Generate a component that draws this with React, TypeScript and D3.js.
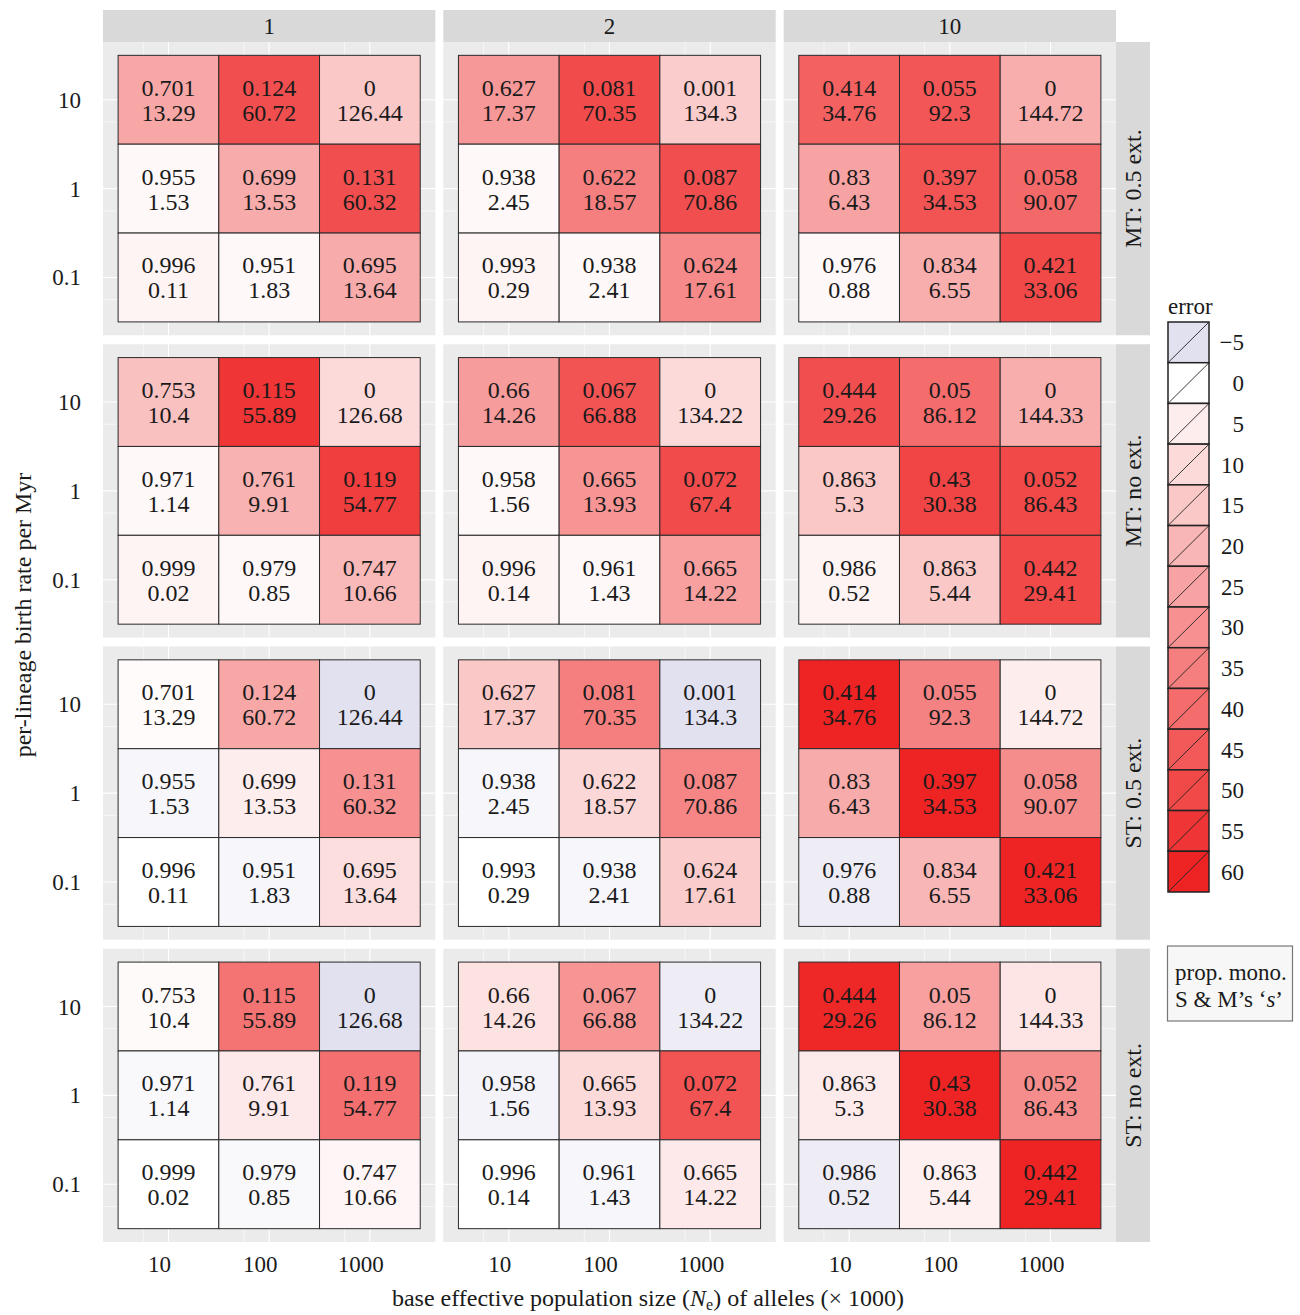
import * as d3 from "d3";

// facets
const facetCols = ["1", "2", "10"];
const facetRows = ["MT: 0.5 ext.", "MT: no ext.", "ST: 0.5 ext.", "ST: no ext."];
const popSizes = [10, 100, 1000];
const birthRates = [10, 1, 0.1]; // top to bottom
const birthLabels = ["10", "1", "0.1"];
const legendBreaks = [-5, 0, 5, 10, 15, 20, 25, 30, 35, 40, 45, 50, 55, 60];

// cell order: birth 10 (pop 10,100,1000), birth 1 (...), birth 0.1 (...)
const monoHalfExt = [
  [0.701, 0.124, 0, 0.955, 0.699, 0.131, 0.996, 0.951, 0.695],
  [0.627, 0.081, 0.001, 0.938, 0.622, 0.087, 0.993, 0.938, 0.624],
  [0.414, 0.055, 0, 0.83, 0.397, 0.058, 0.976, 0.834, 0.421],
];
const sHalfExt = [
  [13.29, 60.72, 126.44, 1.53, 13.53, 60.32, 0.11, 1.83, 13.64],
  [17.37, 70.35, 134.3, 2.45, 18.57, 70.86, 0.29, 2.41, 17.61],
  [34.76, 92.3, 144.72, 6.43, 34.53, 90.07, 0.88, 6.55, 33.06],
];
const monoNoExt = [
  [0.753, 0.115, 0, 0.971, 0.761, 0.119, 0.999, 0.979, 0.747],
  [0.66, 0.067, 0, 0.958, 0.665, 0.072, 0.996, 0.961, 0.665],
  [0.444, 0.05, 0, 0.863, 0.43, 0.052, 0.986, 0.863, 0.442],
];
const sNoExt = [
  [10.4, 55.89, 126.68, 1.14, 9.91, 54.77, 0.02, 0.85, 10.66],
  [14.26, 66.88, 134.22, 1.56, 13.93, 67.4, 0.14, 1.43, 14.22],
  [29.26, 86.12, 144.33, 5.3, 30.38, 86.43, 0.52, 5.44, 29.41],
];

// error (fill)
const errMTHalf = [
  [24, 48, 15, 2, 23, 48, 3, 2, 23],
  [28, 49, 14, 2, 35, 48, 3, 2, 32],
  [43, 46, 22, 25, 47, 41, 2, 22, 50],
];
const errMTNo = [
  [17, 55, 10, 2, 21, 53, 3, 2, 19],
  [27, 47, 10, 2, 29, 49, 3, 2, 26],
  [48, 40, 22, 15, 51, 50, 3, 15, 50],
];
const errSTHalf = [
  [1, 24, -5, -1.5, 5, 30, 0, -1.5, 9],
  [15, 35, -5, -1.5, 11, 33, 0, -1.5, 14],
  [60, 34, 5, 23, 60, 31, -3, 20, 60],
];
const errSTNo = [
  [1.5, 38, -5, -1, 6, 39, 0, -1, 2.5],
  [8, 29, -3, -2, 10, 47, 0, -1.5, 6],
  [59, 26, 7, 5.5, 60, 31, -3, 4, 60],
];

const rowMono = [monoHalfExt, monoNoExt, monoHalfExt, monoNoExt];
const rowS = [sHalfExt, sNoExt, sHalfExt, sNoExt];
const rowErr = [errMTHalf, errMTNo, errSTHalf, errSTNo];

const W = 1300;
const H = 1315;
const FONT = "'Liberation Serif', 'Times New Roman', serif";
const INK = "#1a1a1a";

const fill = d3
  .scaleLinear<string>()
  .domain([-5, 0, 60])
  .range(["#e2e1f0", "#ffffff", "#ee2323"])
  .interpolate(d3.interpolateRgb)
  .clamp(true);

const colBand = d3.scaleBand().domain(facetCols).range([103, 1116]).paddingInner(0.0235);
const rowBand = d3.scaleBand().domain(facetRows).range([42, 1242]).paddingInner(0.0298);
const legendBand = d3.scaleBand<number>().domain(legendBreaks).range([322, 892]);

function Panel({ ci, ri }: { ci: number; ri: number }) {
  const x0 = colBand(facetCols[ci])!;
  const y0 = rowBand(facetRows[ri])!;
  const bw = colBand.bandwidth();
  const bh = rowBand.bandwidth();
  const x = d3.scaleLinear().domain([0.35, 3.65]).range([x0, x0 + bw]);
  const y = d3.scaleLinear().domain([-1.65, 1.65]).range([y0 + bh, y0]);
  const mono = rowMono[ri][ci];
  const s = rowS[ri][ci];
  const err = rowErr[ri][ci];

  const xs = popSizes.map((p) => Math.log10(p));
  const ys = birthRates.map((b) => Math.log10(b));

  return (
    <g>
      <rect x={x0} y={y0} width={bw} height={bh} fill="#ebebeb" />
      {xs.map((v) => (
        <g key={"gx" + v}>
          <line x1={x(v)} x2={x(v)} y1={y0} y2={y0 + bh} stroke="#fff" strokeWidth={1.1} />
          <line x1={x(v - 0.25)} x2={x(v - 0.25)} y1={y0} y2={y0 + bh} stroke="#fff" strokeWidth={0.6} />
        </g>
      ))}
      {ys.map((v) => (
        <g key={"gy" + v}>
          <line x1={x0} x2={x0 + bw} y1={y(v)} y2={y(v)} stroke="#fff" strokeWidth={1.1} />
          <line x1={x0} x2={x0 + bw} y1={y(v - 0.25)} y2={y(v - 0.25)} stroke="#fff" strokeWidth={0.6} />
        </g>
      ))}
      {ys.map((yv, bi) =>
        xs.map((xv, pi) => {
          const k = bi * 3 + pi;
          const cx = x(xv);
          const cy = y(yv);
          return (
            <g key={`c${bi}-${pi}`}>
              <rect
                x={x(xv - 0.5)}
                y={y(yv + 0.5)}
                width={x(xv + 0.5) - x(xv - 0.5)}
                height={y(yv - 0.5) - y(yv + 0.5)}
                fill={fill(err[k])}
                stroke="#2a2a2a"
                strokeWidth={1}
              />
              <text x={cx} y={cy - 4} textAnchor="middle" fontSize={24} fill={INK}>
                {String(mono[k])}
              </text>
              <text x={cx} y={cy + 21} textAnchor="middle" fontSize={24} fill={INK}>
                {String(s[k])}
              </text>
            </g>
          );
        })
      )}
      {ri === facetRows.length - 1 &&
        xs.map((v, i) => (
          <text key={"xt" + i} x={x(v) - 9} y={1272} textAnchor="middle" fontSize={23} fill={INK}>
            {popSizes[i]}
          </text>
        ))}
      {ci === 0 &&
        ys.map((v, i) => (
          <text key={"yt" + i} x={81} y={y(v) + 8} textAnchor="end" fontSize={23} fill={INK}>
            {birthLabels[i]}
          </text>
        ))}
    </g>
  );
}

export default function App() {
  return (
    <>
      <style>{"body{margin:0}"}</style>
      <svg width={W} height={H} style={{ display: "block", background: "#fff" }} fontFamily={FONT}>
        {/* column strips */}
        {facetCols.map((c) => (
          <g key={"cs" + c}>
            <rect x={colBand(c)!} y={10} width={colBand.bandwidth()} height={32} fill="#d9d9d9" />
            <text x={colBand(c)! + colBand.bandwidth() / 2} y={34} textAnchor="middle" fontSize={23} fill={INK}>
              {c}
            </text>
          </g>
        ))}
        {/* row strips */}
        {facetRows.map((r) => {
          const cy = rowBand(r)! + rowBand.bandwidth() / 2;
          return (
            <g key={"rs" + r}>
              <rect x={1116} y={rowBand(r)!} width={34} height={rowBand.bandwidth()} fill="#d9d9d9" />
              <text
                transform={`translate(1141,${cy}) rotate(-90)`}
                textAnchor="middle"
                fontSize={24}
                fill={INK}
              >
                {r}
              </text>
            </g>
          );
        })}
        {facetRows.map((_, ri) => facetCols.map((_, ci) => <Panel key={`p${ri}-${ci}`} ci={ci} ri={ri} />))}

        {/* axis titles */}
        <text transform="translate(31,615) rotate(-90)" textAnchor="middle" fontSize={24} fill={INK}>
          per-lineage birth rate per Myr
        </text>
        <text x={648} y={1306} textAnchor="middle" fontSize={24} fill={INK}>
          base effective population size (<tspan fontStyle="italic">N</tspan>
          <tspan fontSize={16} dy={4}>e</tspan>
          <tspan dy={-4}>) of alleles (× 1000)</tspan>
        </text>

        {/* colour legend */}
        <text x={1168} y={314} fontSize={23} fill={INK}>
          error
        </text>
        {legendBreaks.map((b) => {
          const ky = legendBand(b)!;
          const kh = legendBand.bandwidth();
          return (
            <g key={"lk" + b}>
              <rect x={1168} y={ky} width={41} height={kh} fill={fill(b)} stroke="#222" strokeWidth={1.5} />
              <line x1={1168} y1={ky + kh} x2={1209} y2={ky} stroke="#222" strokeWidth={0.9} />
              <text x={1244} y={ky + kh / 2 + 8} textAnchor="end" fontSize={23} fill={INK}>
                {b < 0 ? "\u2212" + Math.abs(b) : b}
              </text>
            </g>
          );
        })}

        {/* label key */}
        <rect x={1167.5} y={946} width={125} height={75} fill="#f7f7f7" stroke="#777" strokeWidth={1.2} />
        <text x={1175} y={980} fontSize={23} fill={INK}>
          prop. mono.
        </text>
        <text x={1175} y={1007} fontSize={23} fill={INK}>
          S &amp; M’s ‘<tspan fontStyle="italic">s</tspan>’
        </text>
      </svg>
    </>
  );
}
